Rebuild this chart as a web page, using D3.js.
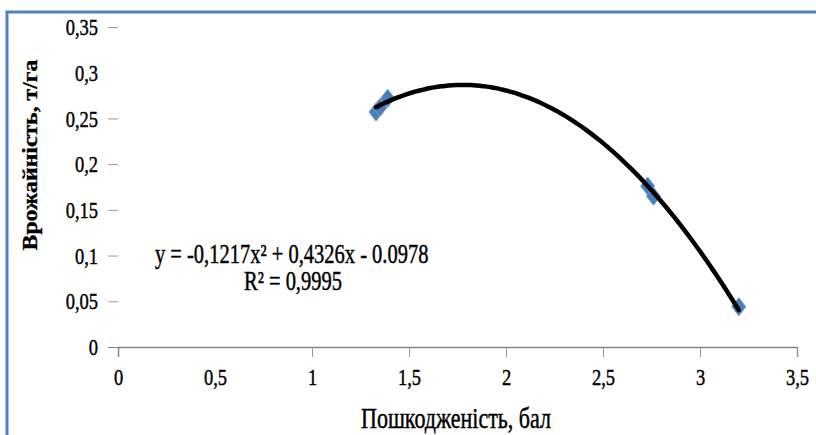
<!DOCTYPE html>
<html>
<head>
<meta charset="utf-8">
<script src="https://cdn.jsdelivr.net/npm/d3@7"></script>
<style>
  body { margin: 0; background: #fff; }
  text { font-family: "Liberation Serif", "Times New Roman", serif; fill: #000; stroke: #000; stroke-width: 0.35px; }
</style>
</head>
<body>
<div id="chart"></div>
<script>
// data
const damage = [1.33, 1.35, 1.39, 2.73, 2.76, 3.2];
const yieldVals = [0.257, 0.262, 0.272, 0.176, 0.165, 0.044];
// trendline coefficients as printed on the chart (a*x^2 + b*x + c)
const trendCoef = [-0.1217, 0.4326, -0.0978];
const xTicks = [0, 0.5, 1, 1.5, 2, 2.5, 3, 3.5];
const yTicks = [0, 0.05, 0.1, 0.15, 0.2, 0.25, 0.3, 0.35];
const eqText = "y = -0,1217x² + 0,4326x - 0.0978";
const r2Text = "R² = 0,9995";

const width = 816, height = 435;
const stretch = 1.3; // picture is vertically stretched

const svg = d3.select("#chart").append("svg")
  .attr("width", width)
  .attr("height", height);

// blue frame (left + top)
svg.append("path")
  .attr("d", "M7,435 V12 H816")
  .attr("fill", "none")
  .attr("stroke", "#4f81bd")
  .attr("stroke-width", 3);

const x = d3.scaleLinear().domain([0, 3.5]).range([118, 797]);
const y = d3.scaleLinear().domain([0, 0.35]).range([347, 27]);

const fmt = d => String(d).replace(".", ",");

// y axis: tick dashes only, no line
const yAxis = svg.append("g")
  .attr("transform", "translate(118,0)")
  .call(d3.axisLeft(y).tickValues(yTicks).tickSize(10).tickPadding(10).tickFormat(fmt));
yAxis.select(".domain").remove();
yAxis.selectAll(".tick line")
  .attr("stroke", "#9a9a9a")
  .attr("opacity", d => d === 0.3 ? 0 : 1);
yAxis.selectAll(".tick text")
  .attr("font-size", 18.5)
  .attr("font-family", "Liberation Serif")
  .attr("dy", "0.32em")
  .attr("transform", `scale(1,${stretch})`);
yAxis.selectAll(".tick").filter(d => d === 0).select("line").attr("stroke", "#868686");

// x axis
const xAxis = svg.append("g")
  .attr("transform", "translate(0,347)")
  .call(d3.axisBottom(x).tickValues(xTicks).tickSize(10).tickPadding(12).tickFormat(fmt));
xAxis.select(".domain").attr("stroke", "#868686").attr("stroke-width", 1.5);
xAxis.selectAll(".tick line")
  .attr("stroke", "#9a9a9a")
  .attr("opacity", d => d < 1 ? 0 : 1);
xAxis.selectAll(".tick text")
  .attr("font-size", 18.5)
  .attr("font-family", "Liberation Serif")
  .attr("y", 21 / stretch)
  .attr("dy", "0.71em")
  .attr("transform", `scale(1,${stretch})`);

// markers
const pts = damage.map((d, i) => ({ x: d, y: yieldVals[i] }));
svg.append("g").selectAll("path")
  .data(pts)
  .join("path")
  .attr("d", "M0,-9 L7,0 L0,9 L-7,0 Z")
  .attr("transform", d => `translate(${x(d.x)},${y(d.y)})`)
  .attr("fill", "#4a7ebb")
  .attr("stroke", "#6f97cc")
  .attr("stroke-width", 1);

// polynomial trendline, drawn over markers
const [xa, xb] = d3.extent(damage);
const trend = d3.range(0, 101).map(i => {
  const xv = xa + (xb - xa) * i / 100;
  return [xv, trendCoef[0] * xv * xv + trendCoef[1] * xv + trendCoef[2]];
});
svg.append("path")
  .datum(trend)
  .attr("d", d3.line().x(d => x(d[0])).y(d => y(d[1])).curve(d3.curveBasis))
  .attr("fill", "none")
  .attr("stroke", "#000")
  .attr("stroke-width", 4.5)
  .attr("stroke-linecap", "round");

// stretched text helper
function label(px, py, str, size, anchor, weight, rot, s) {
  const k = s || stretch;
  return svg.append("text")
    .attr("transform", rot
      ? `translate(${px},${py}) rotate(-90) scale(${k},1)`
      : `translate(${px},${py}) scale(1,${k})`)
    .attr("text-anchor", anchor)
    .attr("font-size", size)
    .attr("font-weight", weight || "normal")
    .text(str);
}

label(155, 263, eqText, 20.5, "start");
label(293, 290, r2Text, 20.5, "middle");
label(456, 428, "Пошкодженість, бал", 22, "middle");
label(37, 155, "Врожайність, т/га", 22, "middle", "bold", true, 1.08);
</script>
</body>
</html>
